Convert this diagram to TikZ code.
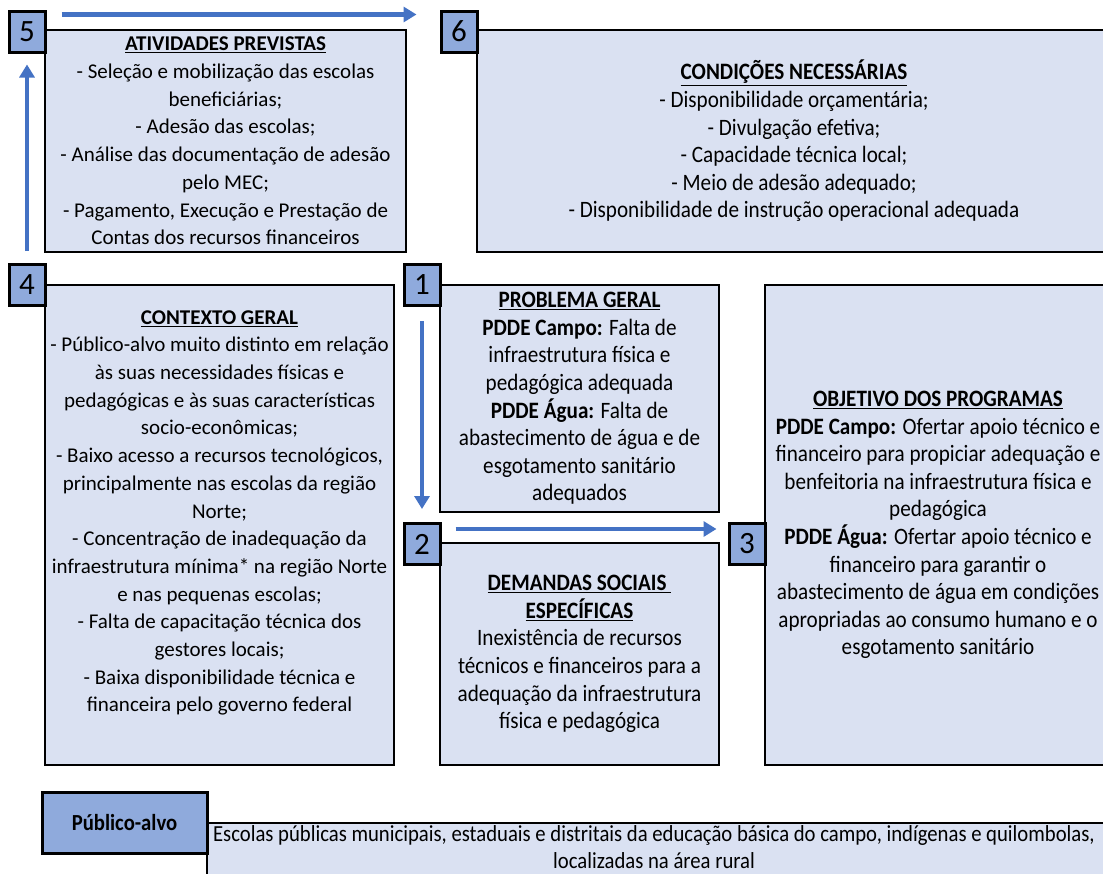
\documentclass[tikz,border=0pt]{standalone}
\usepackage{fontspec}
\setmainfont{Carlito}
\newfontfamily\cond[FakeStretch=0.9]{Carlito}
\usetikzlibrary{arrows.meta,calc}
\definecolor{boxfill}{HTML}{DAE1F2}
\definecolor{badgefill}{HTML}{8FAADC}
\definecolor{arrowblue}{HTML}{4472C4}
\tikzset{
  box/.style={draw=black, line width=2pt, fill=boxfill, inner sep=0pt},
  badge/.style={draw=black, line width=3pt, fill=badgefill, inner sep=0pt,
    minimum width=36pt, minimum height=41pt, font=\fontsize{31}{34}\selectfont},
  regtxt/.style={align=center, inner sep=0pt, font=\fontsize{21}{27.7}\selectfont},
  condtxt/.style={align=center, inner sep=0pt, font=\cond\fontsize{23.5}{27.6}\selectfont},
  flow/.style={draw=arrowblue, line width=4.5pt, -{Triangle[width=15pt,length=13pt]}},
}
\begin{document}
\begin{tikzpicture}[x=1pt,y=-1pt]
\useasboundingbox (0,0) rectangle (1103,873);
\clip (0,0) rectangle (1103,873);
% box 5
\node[box, minimum width=361pt, minimum height=222pt, regtxt] (n5) at (225.5,141)
{\textbf{\underline{ATIVIDADES PREVISTAS}}\\
- Seleção e mobilização das escolas\\
beneficiárias;\\
- Adesão das escolas;\\
- Análise das documentação de adesão\\
pelo MEC;\\
- Pagamento, Execução e Prestação de\\
Contas dos recursos financeiros};
% box 6
\node[box, minimum width=634pt, minimum height=222pt, condtxt] (n6) at (794,141)
{\textbf{\underline{CONDIÇÕES NECESSÁRIAS}}\\
- Disponibilidade orçamentária;\\
- Divulgação efetiva;\\
- Capacidade técnica local;\\
- Meio de adesão adequado;\\
- Disponibilidade de instrução operacional adequada};
% box 4
\node[box, minimum width=349pt, minimum height=480pt] (n4) at (219.5,525) {};
\node[regtxt] (t4) at (219.5,513)
{\textbf{\underline{CONTEXTO GERAL}}\\
- Público-alvo muito distinto em relação\\
às suas necessidades físicas e\\
pedagógicas e às suas características\\
socio-econômicas;\\
- Baixo acesso a recursos tecnológicos,\\
principalmente nas escolas da região\\
Norte;\\
- Concentração de inadequação da\\
infraestrutura mínima* na região Norte\\
e nas pequenas escolas;\\
- Falta de capacitação técnica dos\\
gestores locais;\\
- Baixa disponibilidade técnica e\\
financeira pelo governo federal};
% box 1
\node[box, minimum width=279pt, minimum height=227pt, condtxt] (n1) at (579.5,398.5)
{\textbf{\underline{PROBLEMA GERAL}}\\
\textbf{PDDE Campo:} Falta de\\
infraestrutura física e\\
pedagógica adequada\\
\textbf{PDDE Água:} Falta de\\
abastecimento de água e de\\
esgotamento sanitário\\
adequados};
% box 2
\node[box, minimum width=279pt, minimum height=222pt, condtxt] (n2) at (579.5,654)
{\textbf{\underline{DEMANDAS SOCIAIS\ }}\\
\textbf{\underline{ESPECÍFICAS}}\\
Inexistência de recursos\\
técnicos e financeiros para a\\
adequação da infraestrutura\\
física e pedagógica};
% box 3
\node[box, minimum width=346pt, minimum height=480pt, condtxt] (n3) at (938,525)
{\textbf{\underline{OBJETIVO DOS PROGRAMAS}}\\
\textbf{PDDE Campo:} Ofertar apoio técnico e\\
financeiro para propiciar adequação e\\
benfeitoria na infraestrutura física e\\
pedagógica\\
\textbf{PDDE Água:} Ofertar apoio técnico e\\
financeiro para garantir o\\
abastecimento de água em condições\\
apropriadas ao consumo humano e o\\
esgotamento sanitário};
% bottom box
\node[box, minimum width=900pt, minimum height=62pt] (nb) at (657,854) {};
\node[condtxt, font=\cond\fontsize{23}{27.4}\selectfont] (tb) at (654,847)
{Escolas públicas municipais, estaduais e distritais da educação básica do campo, indígenas e quilombolas,\\
localizadas na área rural};
\node[badge, minimum width=165pt, minimum height=61pt, font=\cond\bfseries\fontsize{23}{26}\selectfont] (pa) at (124.5,822.5) {Público-alvo};
% badges
\node[badge] (b5) at (27,31.5) {5};
\node[badge] (b6) at (459,31.5) {6};
\node[badge] (b4) at (27,285) {4};
\node[badge] (b1) at (422,285) {1};
\node[badge] (b2) at (422,544) {2};
\node[badge] (b3) at (747,544) {3};
% arrows
\draw[flow] ($(b5.north east)+(15,5)$) -- ($(b6.north west)+(-23,5)$);
\draw[flow] ($(b4.north)+(0,-12)$) -- ($(b5.south)+(0,11)$);
\draw[flow] ($(b1.south)+(0,14)$) -- ($(b2.north)+(0,-13)$);
\draw[flow] ($(b2.north east)+(14,7)$) -- ($(b3.north west)+(-11,7)$);
\end{tikzpicture}
\end{document}
